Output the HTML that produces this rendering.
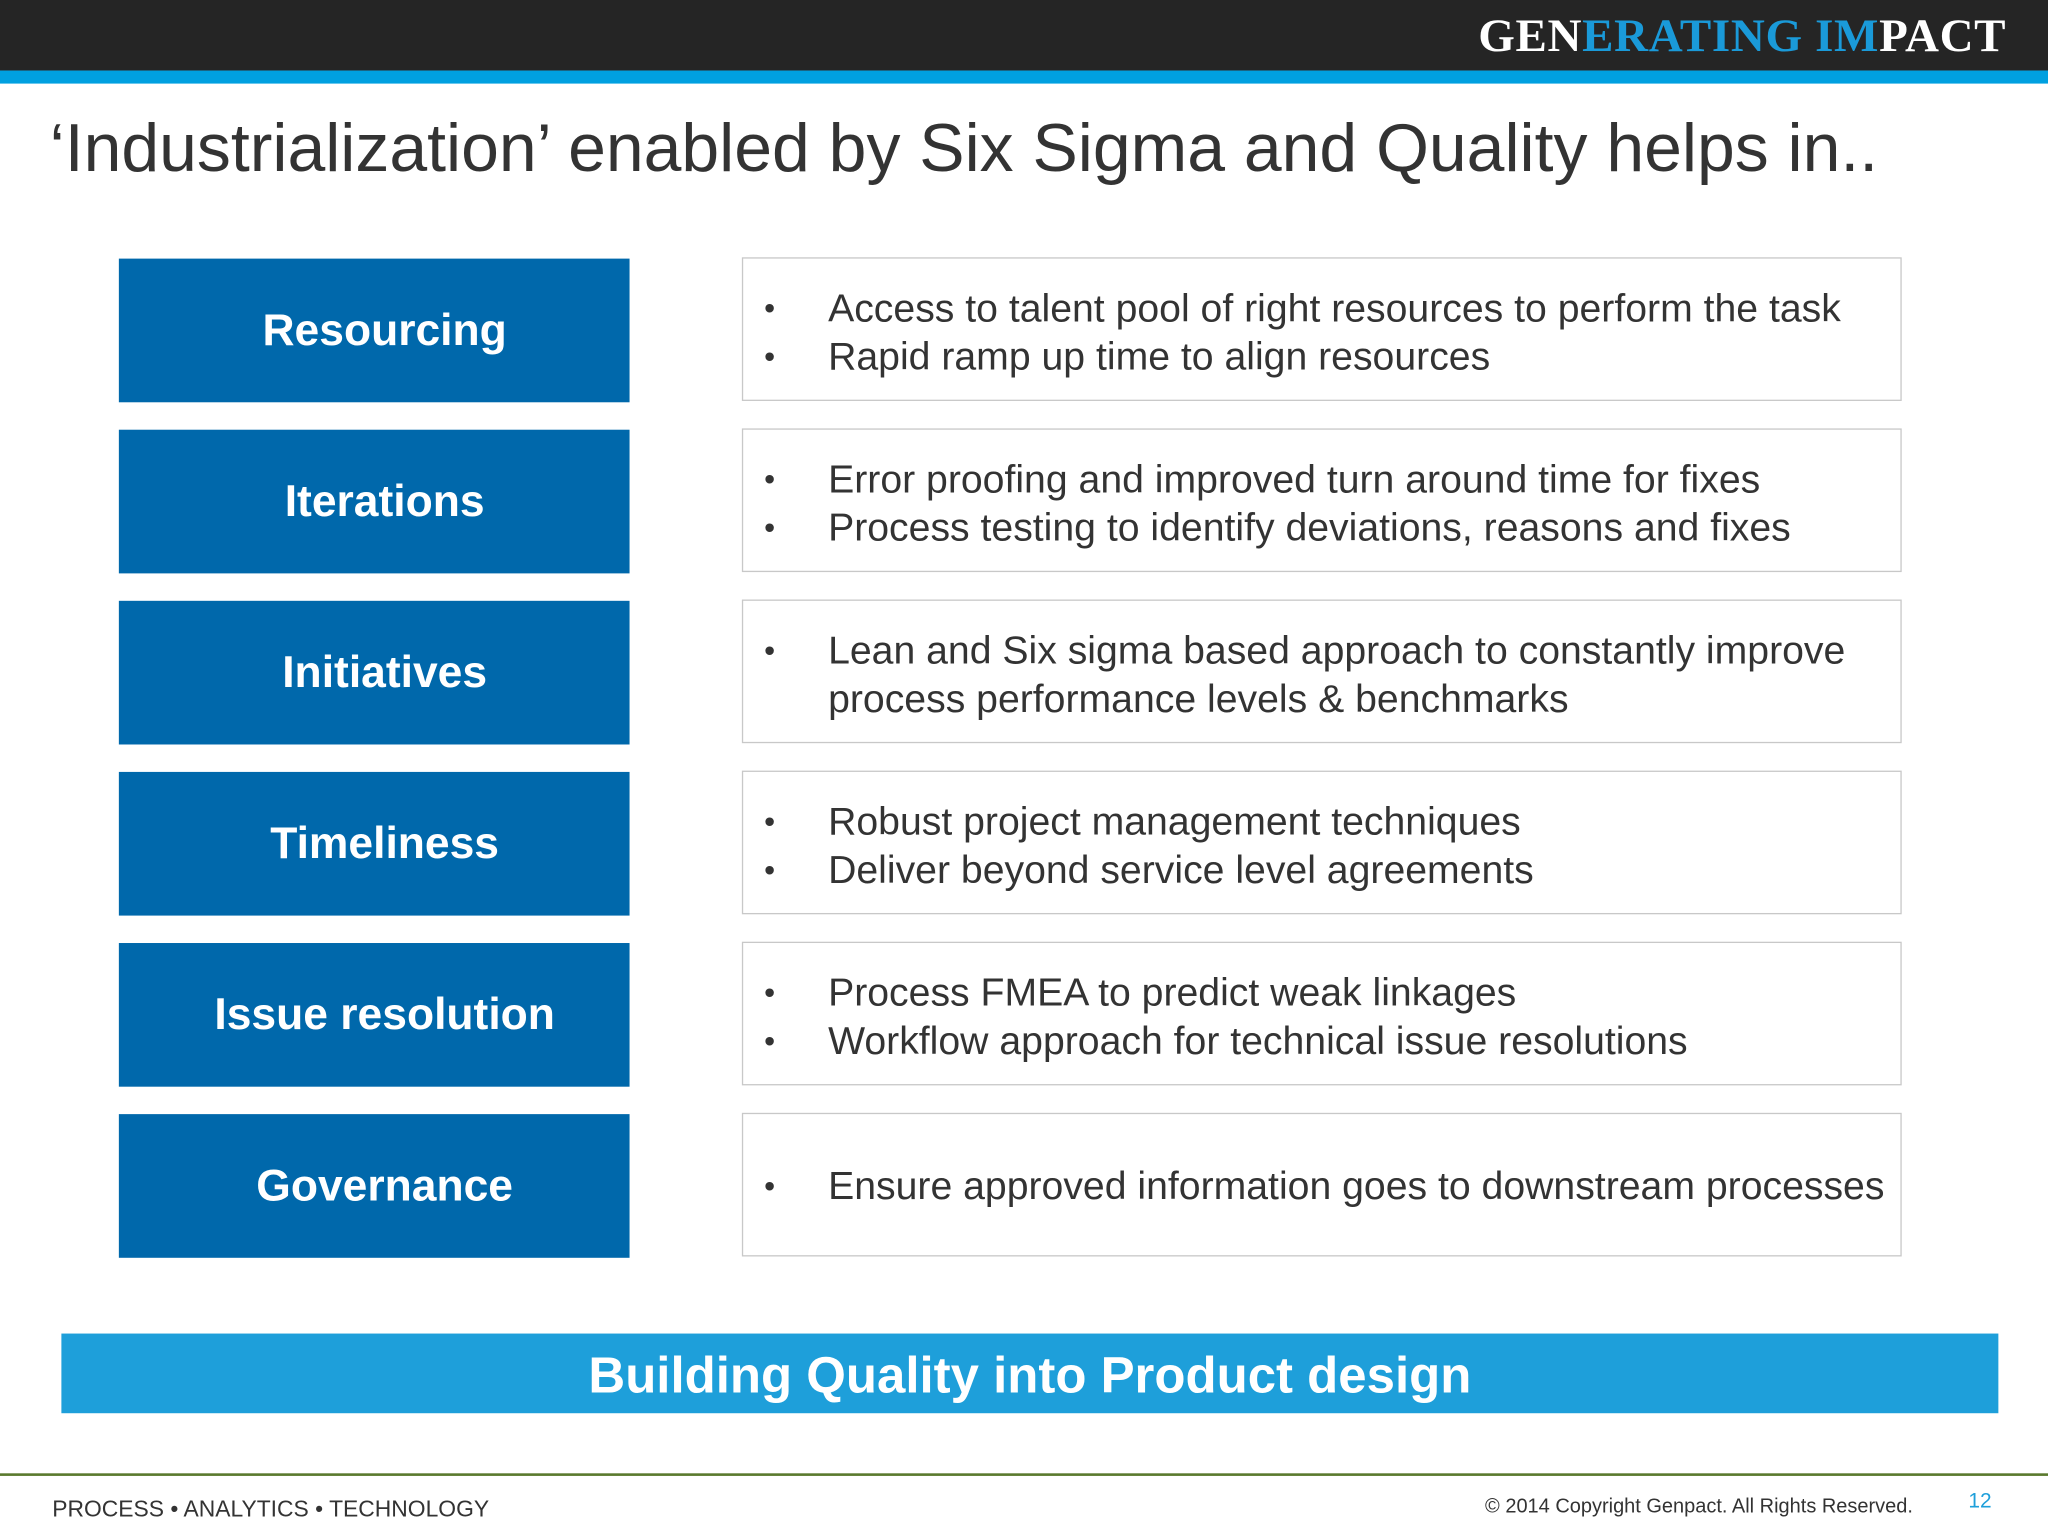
<!DOCTYPE html>
<html><head><meta charset="utf-8"><style>
html,body{margin:0;padding:0;width:2048px;height:1536px;overflow:hidden;background:#fff}
#s{position:absolute;left:0;top:0;width:1568px;height:1176px;transform:scale(1.306122);transform-origin:0 0;font-family:"Liberation Sans",sans-serif}
.a{position:absolute}
.lb{position:absolute;left:91px;width:391px;height:110px;background:#0068ab;color:#fff;font-weight:bold;font-size:34px;display:flex;align-items:center;justify-content:center;padding-left:16px;box-sizing:border-box}
.rb{position:absolute;left:568px;width:886px;height:108px;border:1.5px solid #c8c8c8;background:#fff;color:#333;font-size:30px;line-height:37px}
.rb ul{margin:0;padding:0;list-style:none;position:absolute;left:16px;top:50%;transform:translateY(-46%)}
.rb li{position:relative;padding-left:49px;white-space:nowrap}
.rb li:before{content:"•";position:absolute;left:0;font-size:24px}
</style></head><body>
<div id="s">
<div class="a" style="left:0;top:0;width:1568px;height:54px;background:#252525"></div>
<div class="a" style="left:0;top:54px;width:1568px;height:10px;background:#00a0e0"></div>
<div class="a" style="right:32px;top:6px;font-family:'Liberation Serif',serif;font-weight:bold;font-size:36px;color:#fff;letter-spacing:0.5px">GEN<span style="color:#1a9ad9">ERATING IM</span>PACT</div>
<div class="a" style="left:38px;top:84px;font-size:52px;color:#333;white-space:nowrap">‘Industrialization’ enabled by Six Sigma and Quality helps in..</div>

<div class="lb" style="top:198px">Resourcing</div>
<div class="lb" style="top:329px">Iterations</div>
<div class="lb" style="top:460px">Initiatives</div>
<div class="lb" style="top:591px">Timeliness</div>
<div class="lb" style="top:722px">Issue resolution</div>
<div class="lb" style="top:853px">Governance</div>

<div class="rb" style="top:197px"><ul><li>Access to talent pool of right resources to perform the task</li><li>Rapid ramp up time to align resources</li></ul></div>
<div class="rb" style="top:328px"><ul><li>Error proofing and improved turn around time for fixes</li><li>Process testing to identify deviations, reasons and fixes</li></ul></div>
<div class="rb" style="top:459px"><ul><li>Lean and Six sigma based approach to constantly improve<br>process performance levels &amp; benchmarks</li></ul></div>
<div class="rb" style="top:590px"><ul><li>Robust project management techniques</li><li>Deliver beyond service level agreements</li></ul></div>
<div class="rb" style="top:721px"><ul><li>Process FMEA to predict weak linkages</li><li>Workflow approach for technical issue resolutions</li></ul></div>
<div class="rb" style="top:852px"><ul><li>Ensure approved information goes to downstream processes</li></ul></div>

<div class="a" style="left:47px;top:1021px;width:1483px;height:61px;background:#1e9fda;color:#fff;font-weight:bold;font-size:39px;display:flex;align-items:center;justify-content:center;padding-top:4px;box-sizing:border-box">Building Quality into Product design</div>
<div class="a" style="left:0;top:1128px;width:1568px;height:2px;background:#5a7a2e"></div>
<div class="a" style="left:40px;top:1145px;font-size:17.5px;color:#333">PROCESS • ANALYTICS • TECHNOLOGY</div>
<div class="a" style="left:1137px;top:1145px;font-size:15.3px;color:#333">© 2014 Copyright Genpact. All Rights Reserved.</div>
<div class="a" style="left:1507px;top:1141px;font-size:16px;color:#1e9fda">12</div>
</div>
</body></html>
